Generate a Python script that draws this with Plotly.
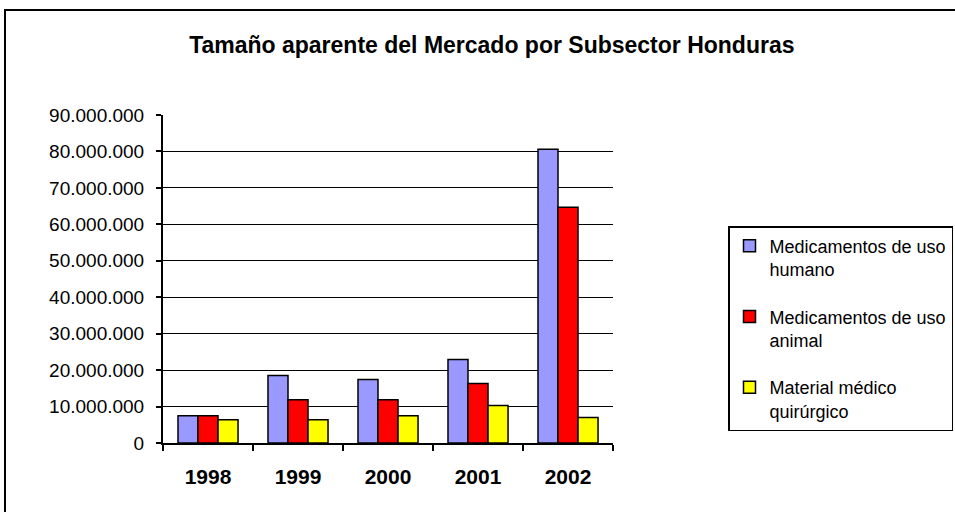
import plotly.graph_objects as go

years = ["1998", "1999", "2000", "2001", "2002"]
humano = [7500000, 18500000, 17400000, 22900000, 80600000]
animal = [7500000, 11900000, 11900000, 16300000, 64700000]
material = [6400000, 6400000, 7500000, 10300000, 7000000]

series_names = ["Medicamentos de uso<br>humano", "Medicamentos de uso<br>animal", "Material médico<br>quirúrgico"]
series_values = [humano, animal, material]
colors = ["#9999FF", "#FF0000", "#FFFF00"]

FONT = "Liberation Sans, Arial, sans-serif"

fig = go.Figure()
for i, (name, vals, col) in enumerate(zip(series_names, series_values, colors)):
    fig.add_trace(go.Bar(
        x=years, y=vals, name=name, legendgroup=f"g{i}",
        marker=dict(color=col, line=dict(color="black", width=1.5)),
    ))

L, R, T, B = 163, 955 - 613, 115, 512 - 443
W, H = 955, 512
pw, ph = W - L - R, H - T - B

def px_x(p):
    return (p - L) / pw

def px_y(p):
    return (H - B - p) / ph

fig.update_layout(
    width=W, height=H,
    margin=dict(l=L, r=R, t=T, b=B, autoexpand=False),
    paper_bgcolor="white", plot_bgcolor="white",
    separators=",.",
    font=dict(family=FONT, color="black"),
    barmode="group", bargap=0.333, bargroupgap=0,
    title=dict(text="<b>Tamaño aparente del Mercado por Subsector Honduras</b>",
               x=0.515, xref="container", xanchor="center",
               y=1 - 45 / H, yref="container", yanchor="middle",
               font=dict(size=23, family=FONT, color="black")),
    legend=dict(x=px_x(728), y=px_y(226), xref="paper", yref="paper",
                xanchor="left", yanchor="top",
                bordercolor="black", borderwidth=1.5, bgcolor="white",
                font=dict(size=18, family=FONT, color="black"),
                tracegroupgap=21, valign="top"),
    showlegend=True,
)

fig.update_xaxes(showline=True, linecolor="black", linewidth=2,
                 ticks="outside", tickson="boundaries", ticklen=6, tickwidth=2, tickcolor="black",
                 tickfont=dict(size=21, family=FONT, color="black"),
                 ticklabelstandoff=14, showgrid=False, zeroline=False)
fig.update_xaxes(tickprefix="<b>", ticksuffix="</b>")

fig.update_yaxes(range=[0, 90000000], dtick=10000000, tickformat=",d",
                 showline=True, linecolor="black", linewidth=2,
                 ticks="outside", ticklen=5, tickwidth=2, tickcolor="black",
                 showgrid=True, gridcolor="black", gridwidth=1, zeroline=False,
                 tickfont=dict(size=19, family=FONT, color="black"),
                 ticklabelstandoff=8)

# outer chart border (extends past the visible canvas on right and bottom)
fig.add_shape(type="rect", xref="paper", yref="paper",
              x0=px_x(5), x1=px_x(980), y0=px_y(530), y1=px_y(10),
              line=dict(color="black", width=2), fillcolor="rgba(0,0,0,0)", layer="below")

fig.write_html("out.html",
               config={"displayModeBar": False},
               post_script="document.body.style.margin='0';document.body.style.overflow='hidden';")
